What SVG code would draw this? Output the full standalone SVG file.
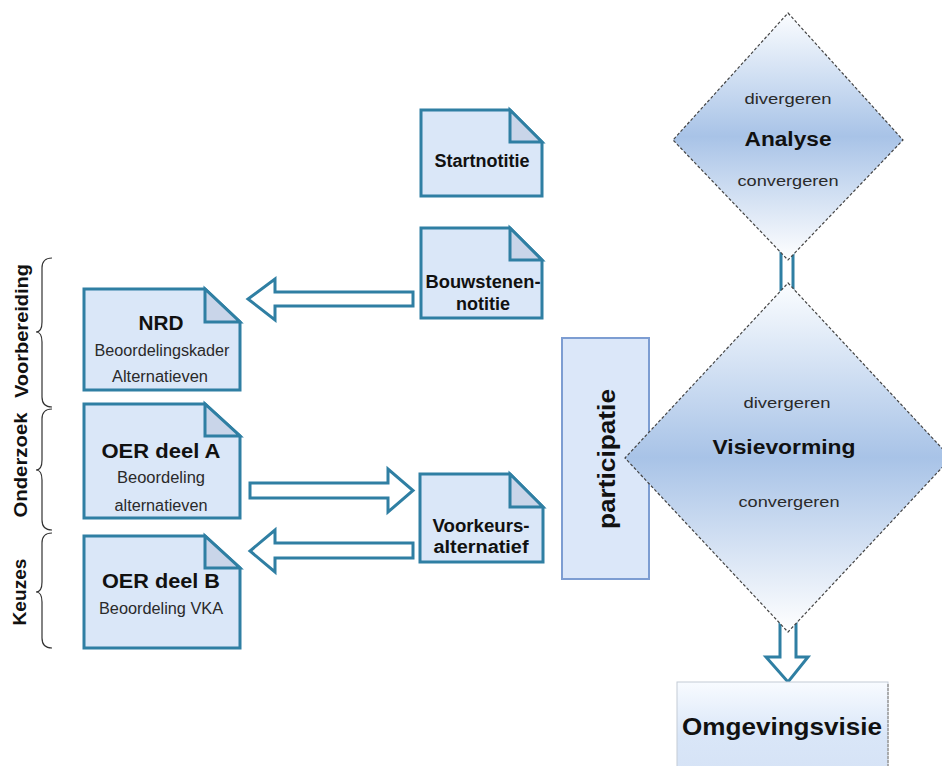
<svg xmlns="http://www.w3.org/2000/svg" width="942" height="766" viewBox="0 0 942 766">
<defs>
<linearGradient id="dg" x1="0" y1="0" x2="0" y2="1">
<stop offset="0" stop-color="#fbfdff"/>
<stop offset="0.5" stop-color="#a8c3e7"/>
<stop offset="1" stop-color="#ffffff"/>
</linearGradient>
<linearGradient id="og" x1="0" y1="0" x2="0" y2="1">
<stop offset="0" stop-color="#f8fbff"/>
<stop offset="0.6" stop-color="#d9e6f8"/>
<stop offset="1" stop-color="#d6e3f6"/>
</linearGradient>
<style>
.doc{fill:#dae7f8;stroke:#2f7fa3;stroke-width:3;stroke-linejoin:miter}
.fold{fill:#c9d5e9;stroke:#2f7fa3;stroke-width:3;stroke-linejoin:miter}
.arr{fill:#ffffff;stroke:#2f7fa3;stroke-width:3;stroke-linejoin:miter}
.dia{fill:url(#dg);stroke:#444;stroke-width:1.2;stroke-dasharray:3 2}
.brace{fill:none;stroke:#333;stroke-width:1.2}
text{font-family:"Liberation Sans",Arial,sans-serif;text-anchor:middle}
.b{font-weight:bold;fill:#111}
.r{fill:#2a2a2a}
</style>
</defs>
<rect width="942" height="766" fill="#ffffff"/>

<g id="connectors">
<rect class="arr" x="781" y="245" width="12" height="45"/>
<polygon class="arr" points="780,600 796,600 796,657 808,657 788,682 766,657 780,657"/>
<polygon class="arr" points="413,292 275,292 275,279 248,299 275,320 275,306 413,306"/>
<polygon class="arr" points="250,483 388,483 388,469 413,490.5 388,512 388,498 250,498"/>
<polygon class="arr" points="413,543 275,543 275,530 250,551 275,572 275,558 413,558"/>
</g>

<g id="braces">
<path class="brace" d="M52,258 Q42,258 42,268 L42,322 Q42,332 36,332 Q42,332 42,342 L42,397 Q42,407 52,407"/>
<path class="brace" d="M52,409 Q42,409 42,419 L42,460 Q42,470 36,470 Q42,470 42,480 L42,520 Q42,530 52,530"/>
<path class="brace" d="M52,533 Q42,533 42,543 L42,582 Q42,592 36,592 Q42,592 42,602 L42,638 Q42,648 52,648"/>
<text class="b" font-size="18" transform="translate(28,331) rotate(-90)" textLength="134" lengthAdjust="spacingAndGlyphs">Voorbereiding</text>
<text class="b" font-size="18" transform="translate(27,465) rotate(-90)" textLength="105" lengthAdjust="spacingAndGlyphs">Onderzoek</text>
<text class="b" font-size="18" transform="translate(26,592) rotate(-90)" textLength="67" lengthAdjust="spacingAndGlyphs">Keuzes</text>
</g>

<g id="startnotitie">
<path class="doc" d="M421,110 H510 L542,142 V196 H421 Z"/>
<path class="fold" d="M510,110 V142 H542 Z"/>
<text class="b" x="482" y="167" font-size="18">Startnotitie</text>
</g>

<g id="bouwstenen">
<path class="doc" d="M421,228 H510 L542,260 V318 H421 Z"/>
<path class="fold" d="M510,228 V260 H542 Z"/>
<text class="b" x="483" y="288" font-size="18" textLength="115" lengthAdjust="spacingAndGlyphs">Bouwstenen-</text>
<text class="b" x="483" y="310" font-size="18">notitie</text>
</g>

<g id="voorkeurs">
<path class="doc" d="M420,474 H510 L543,507 V562 H420 Z"/>
<path class="fold" d="M510,474 V507 H543 Z"/>
<text class="b" x="481" y="532" font-size="18" textLength="97" lengthAdjust="spacingAndGlyphs">Voorkeurs-</text>
<text class="b" x="481" y="553" font-size="18" textLength="95" lengthAdjust="spacingAndGlyphs">alternatief</text>
</g>

<g id="nrd">
<path class="doc" d="M84,289 H205 L240,322 V390 H84 Z"/>
<path class="fold" d="M205,289 V322 H240 Z"/>
<text class="b" x="161" y="330" font-size="20" textLength="45" lengthAdjust="spacingAndGlyphs">NRD</text>
<text class="r" x="162" y="356" font-size="16" textLength="135" lengthAdjust="spacingAndGlyphs">Beoordelingskader</text>
<text class="r" x="160" y="382" font-size="16" textLength="96" lengthAdjust="spacingAndGlyphs">Alternatieven</text>
</g>

<g id="oer-a">
<path class="doc" d="M84,404 H205 L240,436 V518 H84 Z"/>
<path class="fold" d="M205,404 V436 H240 Z"/>
<text class="b" x="161" y="458" font-size="21" textLength="119" lengthAdjust="spacingAndGlyphs">OER deel A</text>
<text class="r" x="161" y="483" font-size="16" textLength="88" lengthAdjust="spacingAndGlyphs">Beoordeling</text>
<text class="r" x="161" y="511" font-size="16" textLength="93" lengthAdjust="spacingAndGlyphs">alternatieven</text>
</g>

<g id="oer-b">
<path class="doc" d="M84,536 H205 L240,568 V648 H84 Z"/>
<path class="fold" d="M205,536 V568 H240 Z"/>
<text class="b" x="161" y="588" font-size="21" textLength="118" lengthAdjust="spacingAndGlyphs">OER deel B</text>
<text class="r" x="161" y="614" font-size="16" textLength="124" lengthAdjust="spacingAndGlyphs">Beoordeling VKA</text>
</g>

<g id="participatie">
<rect x="562" y="338" width="87" height="241" fill="#dbe7f9" stroke="#7d9dd2" stroke-width="2"/>
<text class="b" font-size="24" transform="translate(615,459) rotate(-90)" textLength="140" lengthAdjust="spacingAndGlyphs">participatie</text>
</g>

<g id="analyse">
<polygon class="dia" points="788,13 903,140 788,260 673,140"/>
<text class="r" x="788" y="104" font-size="15" textLength="87" lengthAdjust="spacingAndGlyphs">divergeren</text>
<text class="b" x="788" y="146" font-size="20" textLength="87" lengthAdjust="spacingAndGlyphs">Analyse</text>
<text class="r" x="788" y="186" font-size="15" textLength="101" lengthAdjust="spacingAndGlyphs">convergeren</text>
</g>

<g id="visievorming">
<polygon class="dia" points="788,283 951,458 788,632 625,458"/>
<text class="r" x="787" y="408" font-size="15" textLength="87" lengthAdjust="spacingAndGlyphs">divergeren</text>
<text class="b" x="784" y="454" font-size="21" textLength="143" lengthAdjust="spacingAndGlyphs">Visievorming</text>
<text class="r" x="789" y="507" font-size="15" textLength="101" lengthAdjust="spacingAndGlyphs">convergeren</text>
</g>

<g id="omgevingsvisie">
<rect x="677" y="682" width="211" height="90" fill="url(#og)" stroke="#c3cbd6" stroke-width="1"/>
<line x1="888" y1="684" x2="888" y2="766" stroke="#9a9a9a" stroke-width="1.5" stroke-dasharray="3 1"/>
<text class="b" x="782" y="735" font-size="24" textLength="200" lengthAdjust="spacingAndGlyphs">Omgevingsvisie</text>
</g>
</svg>
